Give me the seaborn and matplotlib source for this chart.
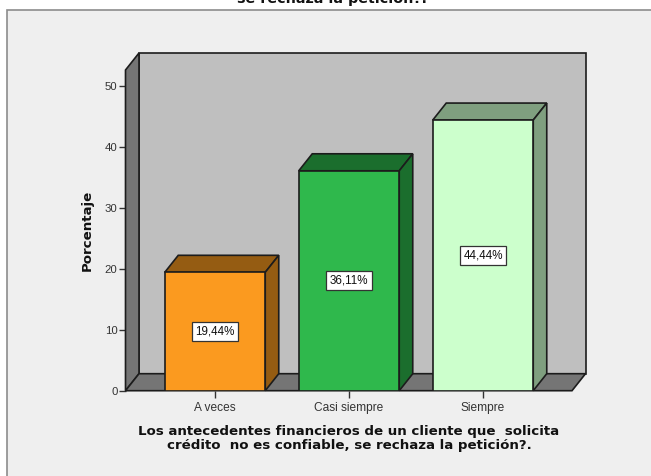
import matplotlib
matplotlib.use("Agg")
import matplotlib.pyplot as plt
from matplotlib.patches import Polygon, Rectangle
import pandas as pd
import seaborn as sns

# ---------- DATA ----------
CATEGORIES = ["A veces", "Casi siempre", "Siempre"]
PERCENTS = [19.44, 36.11, 44.44]
VALUE_LABELS = ["19,44%", "36,11%", "44,44%"]
YTICKS = [0, 10, 20, 30, 40, 50]

FRONT_COLORS = ["#fb9a1f", "#2fb84c", "#ccffcc"]
TOP_COLORS = ["#955c12", "#1b6e2d", "#7f9f7f"]

TITLE_END = "se rechaza la petición?."
XLABEL = "Los antecedentes financieros de un cliente que  solicita\ncrédito  no es confiable, se rechaza la petición?."
YLABEL = "Porcentaje"

# ---------- CONFIG ----------
W, H = 651, 476
LEFT, RIGHT, BOTTOM, TOP = 125.5, 572.0, 390.7, 70.0
FIRST_BAR_CENTER = 215.0
PX_PER_UNIT_X = 134.0
PX_PER_UNIT_Y = 6.09
DEPTH_X = 13.5 / PX_PER_UNIT_X
DEPTH_Y = 17.0 / PX_PER_UNIT_Y
EDGE = "#1c1c1c"

sns.set_theme(style="white")
plt.rcParams["font.family"] = ["Liberation Sans", "DejaVu Sans"]

df = pd.DataFrame({"respuesta": CATEGORIES, "porcentaje": PERCENTS})

fig = plt.figure(figsize=(W / 100, H / 100), dpi=100, facecolor="white")

# light panel behind the chart, running off the right and bottom of the image
fig.add_artist(Rectangle((6.5 / W, -0.1), 1.1, 1.1 - 10 / H, transform=fig.transFigure,
                         facecolor="#efefef", edgecolor="#8c8c8c", linewidth=1.2, zorder=-1))

ax = fig.add_axes([LEFT / W, 1 - BOTTOM / H, (RIGHT - LEFT) / W, (BOTTOM - TOP) / H])
ax.patch.set_alpha(0)

sns.barplot(data=df, x="respuesta", y="porcentaje", hue="respuesta", palette=FRONT_COLORS,
            width=0.75, legend=False, saturation=1, edgecolor=EDGE, linewidth=1.2, ax=ax, zorder=5)

ax.set_xlim((LEFT - FIRST_BAR_CENTER) / PX_PER_UNIT_X, (RIGHT - FIRST_BAR_CENTER) / PX_PER_UNIT_X)
ax.set_ylim(0, (BOTTOM - TOP) / PX_PER_UNIT_Y)
x0, x1 = ax.get_xlim()
y1 = ax.get_ylim()[1]


def face(points, color, z):
    ax.add_patch(Polygon(points, closed=True, facecolor=color, edgecolor=EDGE,
                         linewidth=1.2, clip_on=False, zorder=z))


bars = list(ax.patches)

# box walls: back, left side, floor
face([(x0 + DEPTH_X, DEPTH_Y), (x1 + DEPTH_X, DEPTH_Y), (x1 + DEPTH_X, y1 + DEPTH_Y), (x0 + DEPTH_X, y1 + DEPTH_Y)], "#bfbfbf", 1)
face([(x0, 0), (x0 + DEPTH_X, DEPTH_Y), (x0 + DEPTH_X, y1 + DEPTH_Y), (x0, y1)], "#757575", 2)
face([(x0, 0), (x1, 0), (x1 + DEPTH_X, DEPTH_Y), (x0 + DEPTH_X, DEPTH_Y)], "#757575", 2)

# bar tops and sides, taken from the bars seaborn drew
for bar, shade, text in zip(bars, TOP_COLORS, VALUE_LABELS):
    bx, bw, bh = bar.get_x(), bar.get_width(), bar.get_height()
    face([(bx, bh), (bx + bw, bh), (bx + bw + DEPTH_X, bh + DEPTH_Y), (bx + DEPTH_X, bh + DEPTH_Y)], shade, 4)
    face([(bx + bw, 0), (bx + bw + DEPTH_X, DEPTH_Y), (bx + bw + DEPTH_X, bh + DEPTH_Y), (bx + bw, bh)], shade, 4)
    ax.text(bx + bw / 2, bh / 2, text, ha="center", va="center", fontsize=8.4, color="#111111", zorder=6,
            bbox=dict(boxstyle="square,pad=0.28", facecolor="white", edgecolor="#333333", linewidth=0.9))

for side in ["top", "right", "bottom", "left"]:
    ax.spines[side].set_visible(False)

ax.set_yticks(YTICKS)
ax.tick_params(axis="y", left=True, length=5, width=1, color="#333333", labelsize=8.2, labelcolor="#333333", pad=0.8)
ax.tick_params(axis="x", bottom=True, length=5, width=1, color="#333333", labelsize=8.6, labelcolor="#333333", pad=3)

ax.set_xlabel("")
ax.set_ylabel("")
fig.text(87 / W, 1 - 230 / H, YLABEL, rotation=90, ha="center", va="center",
         fontsize=9.65, fontweight="bold", color="#111111", family="DejaVu Sans")
fig.text(349 / W, 1 - 438.5 / H, XLABEL, ha="center", va="center", linespacing=1.1,
         fontsize=9.65, fontweight="bold", color="#111111", family="DejaVu Sans")
fig.text(332 / W, 1 + 1.5 / H, TITLE_END, ha="center", va="center",
         fontsize=10.3, fontweight="bold", color="#111111", family="DejaVu Sans")

fig.savefig("out.png", dpi=100)
